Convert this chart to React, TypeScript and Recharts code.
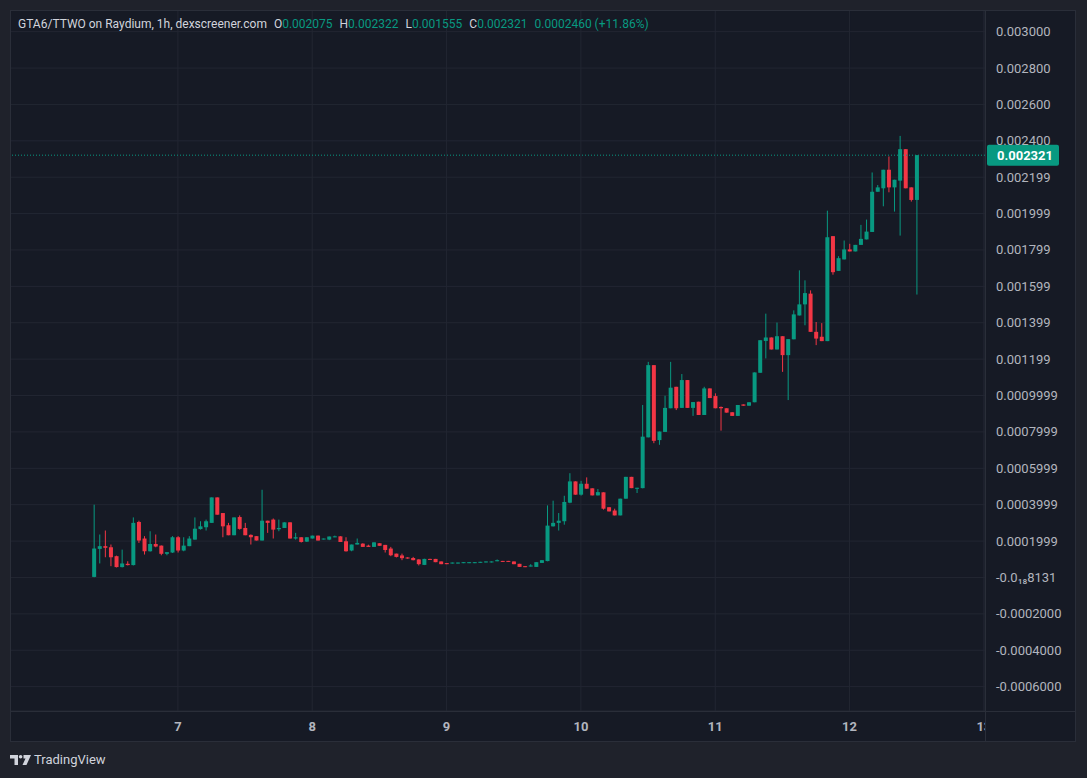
import React from 'react';
import { ComposedChart, Bar, XAxis, YAxis, CartesianGrid, ReferenceLine } from 'recharts';

// hourly candles, index 0 = first candle on the 6th
const opens = [
  0.000003, 0.000157, 0.000172, 0.000166, 0.000117, 0.000057, 0.000075, 0.000068, 0.000305, 0.000214,
  0.000144, 0.000184, 0.000175, 0.000130, 0.000137, 0.000221, 0.000148, 0.000172, 0.000208, 0.000266,
  0.000276, 0.000300, 0.000440, 0.000354, 0.000287, 0.000232, 0.000332, 0.000272, 0.000234, 0.000227,
  0.000203, 0.000312, 0.000318, 0.000265, 0.000272, 0.000303, 0.000214, 0.000221, 0.000197, 0.000214,
  0.000230, 0.000211, 0.000208, 0.000221, 0.000226, 0.000199, 0.000148, 0.000181, 0.000186, 0.000175,
  0.000168, 0.000188, 0.000179, 0.000159, 0.000131, 0.000121, 0.000110, 0.000107, 0.000099, 0.000069,
  0.000102, 0.000102, 0.000088, 0.000079, 0.000079, 0.000079, 0.000080, 0.000080, 0.000080, 0.000082,
  0.000084, 0.000084, 0.000089, 0.000091, 0.000091, 0.000088, 0.000075, 0.000062, 0.000060, 0.000058,
  0.000080, 0.000090, 0.000281, 0.000300, 0.000309, 0.000411, 0.000528, 0.000455, 0.000515, 0.000490,
  0.000451, 0.000468, 0.000386, 0.000368, 0.000341, 0.000433, 0.000553, 0.000491, 0.000491, 0.000770,
  0.001167, 0.000755, 0.000800, 0.000930, 0.001048, 0.000932, 0.001085, 0.000932, 0.000966, 0.000893,
  0.001039, 0.000997, 0.000937, 0.000930, 0.000908, 0.000888, 0.000951, 0.000944, 0.000963, 0.001125,
  0.001300, 0.001319, 0.001253, 0.001326, 0.001222, 0.001309, 0.001440, 0.001501, 0.001560, 0.001350,
  0.001323, 0.001299, 0.001876, 0.001685, 0.001748, 0.001803, 0.001792, 0.001828, 0.001858, 0.001899,
  0.002120, 0.002139, 0.002241, 0.002144, 0.002181, 0.002354, 0.002144, 0.002075,
];
const highs = [
  0.000400, 0.000236, 0.000258, 0.000181, 0.000120, 0.000153, 0.000089, 0.000330, 0.000312, 0.000227,
  0.000254, 0.000236, 0.000176, 0.000139, 0.000227, 0.000227, 0.000221, 0.000227, 0.000330, 0.000309,
  0.000318, 0.000440, 0.000440, 0.000354, 0.000300, 0.000330, 0.000341, 0.000300, 0.000237, 0.000227,
  0.000482, 0.000312, 0.000324, 0.000318, 0.000303, 0.000303, 0.000245, 0.000221, 0.000221, 0.000230,
  0.000230, 0.000214, 0.000225, 0.000230, 0.000227, 0.000221, 0.000181, 0.000214, 0.000188, 0.000180,
  0.000193, 0.000188, 0.000179, 0.000168, 0.000131, 0.000131, 0.000111, 0.000113, 0.000100, 0.000103,
  0.000103, 0.000102, 0.000088, 0.000079, 0.000082, 0.000082, 0.000084, 0.000084, 0.000084, 0.000086,
  0.000088, 0.000088, 0.000099, 0.000091, 0.000091, 0.000088, 0.000075, 0.000062, 0.000073, 0.000084,
  0.000095, 0.000396, 0.000422, 0.000354, 0.000449, 0.000573, 0.000528, 0.000531, 0.000550, 0.000490,
  0.000486, 0.000468, 0.000386, 0.000378, 0.000433, 0.000553, 0.000553, 0.000493, 0.000948, 0.001185,
  0.001167, 0.000802, 0.000999, 0.001185, 0.001048, 0.001118, 0.001085, 0.000964, 0.000966, 0.001048,
  0.001039, 0.001012, 0.000940, 0.000930, 0.000908, 0.000948, 0.000951, 0.000963, 0.001127, 0.001304,
  0.001450, 0.001319, 0.001401, 0.001326, 0.001310, 0.001468, 0.001688, 0.001633, 0.001578, 0.001404,
  0.001398, 0.002016, 0.001876, 0.001766, 0.001852, 0.001834, 0.001828, 0.001938, 0.001967, 0.002226,
  0.002157, 0.002241, 0.002314, 0.002186, 0.002427, 0.002354, 0.002144, 0.002322,
];
const lows = [
  0.000001, 0.000077, 0.000111, 0.000062, 0.000055, 0.000055, 0.000066, 0.000066, 0.000190, 0.000126,
  0.000142, 0.000166, 0.000122, 0.000122, 0.000135, 0.000137, 0.000144, 0.000172, 0.000208, 0.000263,
  0.000258, 0.000300, 0.000345, 0.000221, 0.000232, 0.000232, 0.000263, 0.000232, 0.000181, 0.000203,
  0.000203, 0.000245, 0.000214, 0.000254, 0.000272, 0.000214, 0.000208, 0.000192, 0.000195, 0.000214,
  0.000203, 0.000210, 0.000205, 0.000221, 0.000195, 0.000142, 0.000144, 0.000181, 0.000168, 0.000168,
  0.000168, 0.000174, 0.000137, 0.000117, 0.000110, 0.000095, 0.000103, 0.000094, 0.000066, 0.000068,
  0.000098, 0.000084, 0.000073, 0.000073, 0.000078, 0.000078, 0.000080, 0.000080, 0.000080, 0.000082,
  0.000084, 0.000084, 0.000089, 0.000088, 0.000088, 0.000073, 0.000058, 0.000058, 0.000060, 0.000058,
  0.000080, 0.000089, 0.000280, 0.000258, 0.000290, 0.000408, 0.000455, 0.000450, 0.000488, 0.000451,
  0.000451, 0.000373, 0.000363, 0.000341, 0.000341, 0.000433, 0.000491, 0.000464, 0.000490, 0.000770,
  0.000738, 0.000729, 0.000800, 0.000930, 0.000920, 0.000932, 0.000932, 0.000888, 0.000893, 0.000893,
  0.000986, 0.000930, 0.000807, 0.000906, 0.000888, 0.000888, 0.000944, 0.000944, 0.000963, 0.001125,
  0.001204, 0.001253, 0.001253, 0.001130, 0.000975, 0.001309, 0.001440, 0.001386, 0.001350, 0.001277,
  0.001299, 0.001299, 0.001664, 0.001685, 0.001748, 0.001792, 0.001792, 0.001828, 0.001858, 0.001899,
  0.002120, 0.002040, 0.002117, 0.002011, 0.001879, 0.002139, 0.002066, 0.001555,
];
const closes = [
  0.000159, 0.000172, 0.000163, 0.000111, 0.000057, 0.000077, 0.000068, 0.000300, 0.000203, 0.000144,
  0.000184, 0.000170, 0.000130, 0.000139, 0.000221, 0.000148, 0.000175, 0.000214, 0.000268, 0.000281,
  0.000309, 0.000440, 0.000345, 0.000281, 0.000232, 0.000330, 0.000267, 0.000232, 0.000221, 0.000203,
  0.000312, 0.000300, 0.000263, 0.000272, 0.000303, 0.000214, 0.000221, 0.000195, 0.000221, 0.000230,
  0.000203, 0.000214, 0.000225, 0.000226, 0.000195, 0.000144, 0.000181, 0.000190, 0.000168, 0.000168,
  0.000193, 0.000174, 0.000151, 0.000122, 0.000113, 0.000106, 0.000104, 0.000095, 0.000073, 0.000102,
  0.000099, 0.000084, 0.000073, 0.000073, 0.000082, 0.000082, 0.000084, 0.000084, 0.000084, 0.000086,
  0.000088, 0.000088, 0.000095, 0.000088, 0.000088, 0.000073, 0.000058, 0.000058, 0.000066, 0.000084,
  0.000095, 0.000285, 0.000300, 0.000312, 0.000415, 0.000528, 0.000455, 0.000515, 0.000488, 0.000451,
  0.000469, 0.000378, 0.000363, 0.000341, 0.000433, 0.000553, 0.000491, 0.000493, 0.000774, 0.001167,
  0.000751, 0.000802, 0.000932, 0.001043, 0.000930, 0.001085, 0.000932, 0.000964, 0.000893, 0.001039,
  0.000986, 0.000930, 0.000930, 0.000906, 0.000888, 0.000948, 0.000944, 0.000963, 0.001127, 0.001304,
  0.001319, 0.001253, 0.001326, 0.001222, 0.001310, 0.001446, 0.001501, 0.001563, 0.001350, 0.001313,
  0.001299, 0.001870, 0.001678, 0.001755, 0.001803, 0.001792, 0.001828, 0.001861, 0.001901, 0.002120,
  0.002144, 0.002241, 0.002144, 0.002186, 0.002354, 0.002139, 0.002075, 0.002321,
];

// day boundaries in candle-index units, and their labels
const dayTicks = [15, 39, 63, 87, 111, 135, 159];
const dayLabels = ['7', '8', '9', '10', '11', '12', '13'];

const priceTicks = [
  0.003, 0.0028, 0.0026, 0.0024, 0.0022, 0.002, 0.0018, 0.0016, 0.0014, 0.0012,
  0.001, 0.0008, 0.0006, 0.0004, 0.0002, 0, -0.0002, -0.0004, -0.0006,
];
const priceLabels = [
  '0.003000', '0.002800', '0.002600', '0.002400', '0.002199', '0.001999', '0.001799', '0.001599',
  '0.001399', '0.001199', '0.0009999', '0.0007999', '0.0005999', '0.0003999', '0.0001999',
  '-0.0₁₈8131', '-0.0002000', '-0.0004000', '-0.0006000',
];

const UP = '#089981';
const DOWN = '#f23645';
const GRID = '#222632';
const PANEL = '#161a25';
const OUTER = '#1f222b';
const EDGE = '#2a2e39';
const AXIS_TEXT = '#b2b5be';

const candles = opens.map((o, i) => ({
  t: i,
  open: o,
  high: highs[i],
  low: lows[i],
  close: closes[i],
}));

const last = candles[candles.length - 1];
const prevClose = closes[closes.length - 2];
const change = last.close - prevClose;

function Candle(props: any) {
  const { x, y, width, height, payload } = props;
  if (!payload) return null;
  const { open, high, low, close } = payload;
  const color = close >= open ? UP : DOWN;
  const cx = x + width / 2;
  const range = high - low;
  const k = range > 0 ? height / range : 0;
  const top = y + (high - Math.max(open, close)) * k;
  const bottom = y + (high - Math.min(open, close)) * k;
  return (
    <g>
      <line x1={cx} x2={cx} y1={y} y2={y + Math.max(height, 1)} stroke={color} strokeWidth={1} />
      <rect x={x} y={top} width={width} height={Math.max(bottom - top, 1)} fill={color} />
    </g>
  );
}

function PriceTick(props: any) {
  const { x, y, payload } = props;
  const i = priceTicks.indexOf(payload.value);
  return (
    <text x={x + 11} y={y} dominantBaseline="central" fill={AXIS_TEXT} fontSize={13} fontFamily="Roboto">
      {priceLabels[i]}
    </text>
  );
}

function DayTick(props: any) {
  const { x, y, payload } = props;
  const i = dayTicks.indexOf(payload.value);
  return (
    <g>
      <defs>
        <clipPath id="dayclip">
          <rect x={0} y={0} width={975} height={732} />
        </clipPath>
      </defs>
      <text
        x={x}
        y={y + 15}
        textAnchor="middle"
        dominantBaseline="central"
        fill={AXIS_TEXT}
        fontSize={13}
        fontWeight={700}
        fontFamily="Roboto"
        clipPath="url(#dayclip)"
      >
        {dayLabels[i]}
      </text>
    </g>
  );
}

function PriceTag(props: any) {
  const vb = props.viewBox || {};
  const x0 = vb.x + vb.width + 2;
  const y0 = vb.y;
  return (
    <g>
      <rect x={x0} y={y0 - 10.5} width={72} height={21} rx={2} fill={UP} />
      <text x={x0 + 10} y={y0} dominantBaseline="central" fill="#ffffff" fontSize={13} fontWeight={700} fontFamily="Roboto">
        {last.close.toFixed(6)}
      </text>
    </g>
  );
}

function Logo() {
  return (
    <div style={{ position: 'absolute', left: 10, top: 752, display: 'flex', alignItems: 'center' }}>
      <svg width={21} height={12} viewBox="0 0 21 12">
        <path d="M0 1 H8 V11 H4.5 V4.5 H0 Z" fill="#d1d4dc" />
        <circle cx={10.6} cy={2.8} r={1.8} fill="#d1d4dc" />
        <path d="M13.5 1 H21 L16.5 11 H12.5 L15.5 4.5 H13.5 Z" fill="#d1d4dc" />
      </svg>
      <span style={{ marginLeft: 3, color: '#d1d4dc', fontSize: 13, fontFamily: 'Roboto' }}>TradingView</span>
    </div>
  );
}

export default function App() {
  const green = { color: UP };
  return (
    <div style={{ position: 'absolute', left: 0, top: 0, width: 1087, height: 778, background: OUTER, overflow: 'hidden' }}>
      <div style={{ position: 'absolute', left: 10, top: 10, width: 1066, height: 732, background: PANEL }}>
        <ComposedChart width={1066} height={732} data={candles} margin={{ top: 0, right: 0, bottom: 0, left: 0 }}>
          <CartesianGrid stroke={GRID} />
          <XAxis
            dataKey="t"
            type="number"
            domain={[-15, 159.2]}
            ticks={dayTicks}
            allowDataOverflow
            height={31}
            tickSize={0}
            tickMargin={0}
            axisLine={false}
            tick={<DayTick />}
          />
          <YAxis
            orientation="right"
            type="number"
            domain={[-0.000734, 0.003119]}
            ticks={priceTicks}
            allowDataOverflow
            width={91}
            tickSize={0}
            tickMargin={0}
            axisLine={false}
            tick={<PriceTick />}
          />
          <ReferenceLine y={last.close} stroke={UP} strokeDasharray="1 2" label={<PriceTag />} />
          <Bar
            dataKey={(d: any) => [d.low, d.high]}
            barSize={4}
            shape={(p: any) => <Candle {...p} />}
            isAnimationActive={false}
          />
        </ComposedChart>
      </div>
      {/* panel edges */}
      <div style={{ position: 'absolute', left: 10, top: 10, width: 1066, height: 732, border: `1px solid ${EDGE}`, boxSizing: 'border-box', pointerEvents: 'none' }} />
      <div style={{ position: 'absolute', left: 10, top: 711, width: 1066, height: 1, background: EDGE }} />
      <div style={{ position: 'absolute', left: 985, top: 10, width: 1, height: 732, background: EDGE }} />
      <div style={{ position: 'absolute', left: 18, top: 17, fontSize: 12, fontFamily: 'Roboto', color: '#d1d4dc', whiteSpace: 'nowrap' }}>
        GTA6/TTWO on Raydium, 1h, dexscreener.com
        <span style={{ marginLeft: 7 }}>O</span><span style={green}>{last.open.toFixed(6)}</span>
        <span style={{ marginLeft: 7 }}>H</span><span style={green}>{last.high.toFixed(6)}</span>
        <span style={{ marginLeft: 7 }}>L</span><span style={green}>{last.low.toFixed(6)}</span>
        <span style={{ marginLeft: 7 }}>C</span><span style={green}>{last.close.toFixed(6)}</span>
        <span style={{ ...green, marginLeft: 7 }}>
          {change.toFixed(7)} (+{((change / prevClose) * 100).toFixed(2)}%)
        </span>
      </div>
      <Logo />
    </div>
  );
}
